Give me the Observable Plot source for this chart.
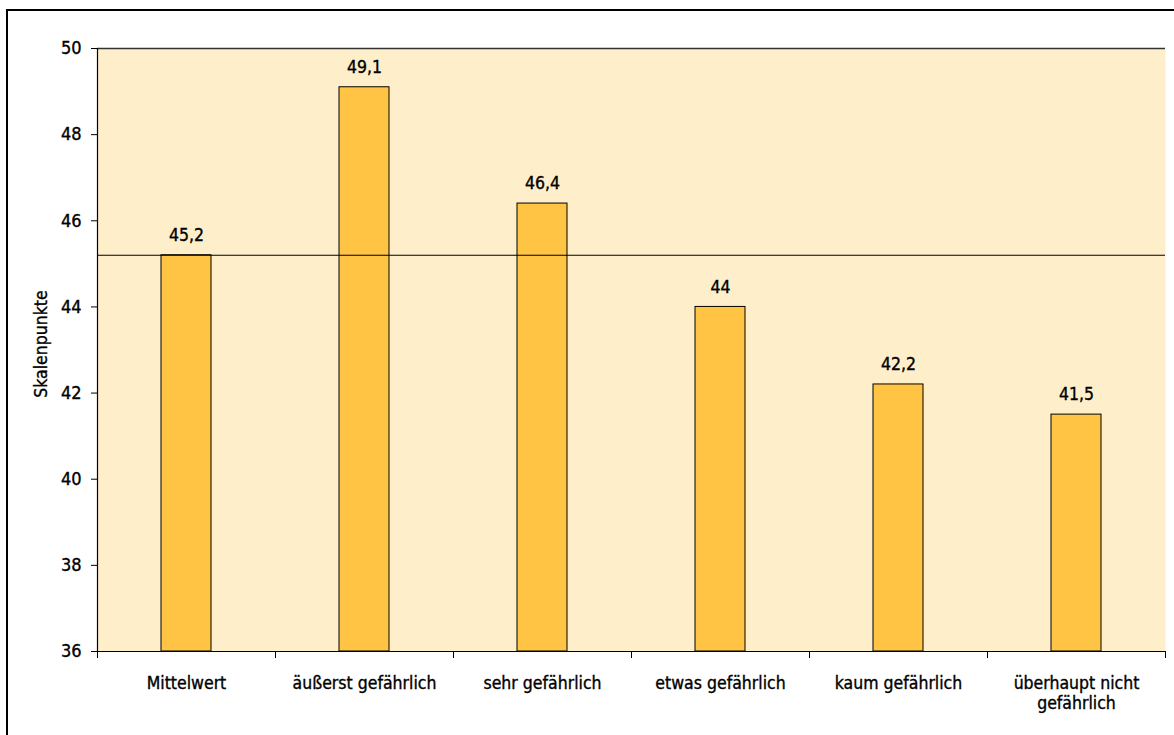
<!DOCTYPE html>
<html>
<head>
<meta charset="utf-8">
<script src="https://cdn.jsdelivr.net/npm/d3@7"></script>
<script src="https://cdn.jsdelivr.net/npm/@observablehq/plot@0.6"></script>
<style>
  html, body { margin: 0; padding: 0; background: #fff; }
  #wrap { position: relative; width: 1174px; height: 735px; overflow: hidden; }
  #frame { position: absolute; left: 6px; top: 9px; width: 1200px; height: 800px;
           border-left: 2px solid #000; border-top: 2px solid #000; pointer-events: none; }
  svg { position: absolute; left: 0; top: 0; }
  svg text { stroke: #000; stroke-width: 0.35px; }
</style>
</head>
<body>
<div id="wrap"><div id="frame"></div></div>
<script>
const categories = ["Mittelwert", "äußerst gefährlich", "sehr gefährlich", "etwas gefährlich", "kaum gefährlich", "überhaupt nicht gefährlich"];
const values = [45.2, 49.1, 46.4, 44, 42.2, 41.5];
const valueLabels = ["45,2", "49,1", "46,4", "44", "42,2", "41,5"];
const meanValue = 45.2;
const yTicks = [36, 38, 40, 42, 44, 46, 48, 50];
const yLabel = "Skalenpunkte";
const categoryLabels = {"überhaupt nicht gefährlich": "überhaupt nicht\ngefährlich"};

const data = categories.map((c, i) => ({cat: c, value: values[i], label: valueLabels[i]}));

const W = 1174, H = 735, ml = 97, mr = 9, mt = 48, mb = 84;
const step = (W - ml - mr) / categories.length;
const barW = 50;
const inset = (step - barW) / 2;
const font = "'Liberation Sans Narrow', 'DejaVu Sans Condensed', sans-serif";
const fs = 17.5;

const chart = Plot.plot({
  width: W, height: H,
  marginLeft: ml, marginRight: mr, marginTop: mt, marginBottom: mb,
  style: {fontFamily: font, fontSize: fs + "px", color: "#000", background: "transparent"},
  x: {domain: categories, padding: 0, label: null},
  y: {domain: [36, 50], label: null},
  marks: [
    Plot.frame({fill: "#FEEFCA", stroke: null}),
    Plot.barY(data, {x: "cat", y1: 36, y2: "value", fill: "#FFC444", stroke: "#000", strokeWidth: 1, insetLeft: inset, insetRight: inset}),
    Plot.ruleY([meanValue], {stroke: "#000", strokeWidth: 1.2}),
    Plot.ruleY([50], {stroke: "#333", strokeWidth: 1.5}),
    Plot.text(data, {x: "cat", y: "value", text: "label", dy: -20, fontSize: fs, fill: "#000"}),
    Plot.axisY({ticks: yTicks, tickSize: 6, tickPadding: 10, tickFormat: d => String(d), fontSize: 18, label: null}),
    Plot.axisX({tickSize: 0, tickPadding: 24, tickFormat: d => categoryLabels[d] || d, fontSize: fs, lineHeight: 1.12, label: null}),
    Plot.ruleX(categories, {x: d => d, dx: -step / 2, y1: 36, y2: 36, insetBottom: -7, stroke: "#000"}),
    Plot.ruleX([categories[categories.length - 1]], {x: d => d, dx: step / 2, y1: 36, y2: 36, insetBottom: -7, stroke: "#000"}),
    Plot.ruleY([36], {stroke: "#000", strokeWidth: 1.2}),
    Plot.ruleX([categories[0]], {x: d => d, dx: -step / 2, y1: 36, y2: 50, stroke: "#000", strokeWidth: 1.2}),
    Plot.text([yLabel], {frameAnchor: "left", textAnchor: "middle", text: d => d, rotate: -90, dx: -56, dy: -6, fontSize: fs, fill: "#000"})
  ]
});
document.getElementById("wrap").prepend(chart);
</script>
</body>
</html>
